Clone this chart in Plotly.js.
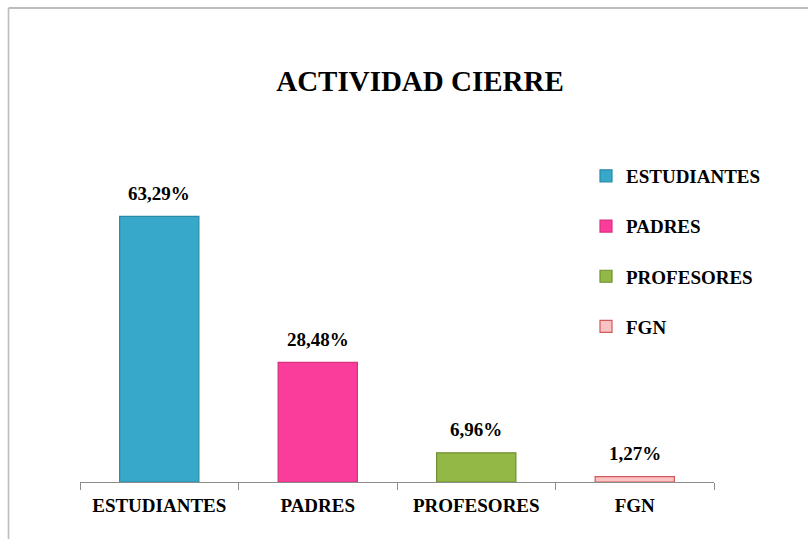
<!DOCTYPE html>
<html>
<head>
<meta charset="utf-8">
<script src="https://cdn.plot.ly/plotly-3.0.1.min.js"></script>
<style>
  html, body { margin: 0; padding: 0; background: #ffffff; }
  #chart { width: 808px; height: 539px; }
</style>
</head>
<body>
<div id="chart"></div>
<script>
// Data
const categories = ["ESTUDIANTES", "PADRES", "PROFESORES", "FGN"];
const values = [63.29, 28.48, 6.96, 1.27];
const valueLabels = ["63,29%", "28,48%", "6,96%", "1,27%"];
const chartTitle = "ACTIVIDAD CIERRE";

// Styling
const fillColors = ["#37A7CA", "#FA3C9B", "#93B845", "#F9C3C3"];
const lineColors = ["#2B8AA8", "#D8307F", "#6E8F30", "#D05A5A"];
const FONT = "Liberation Serif, Times New Roman, serif";

const W = 808, H = 539;
const M = { l: 80, r: 94, t: 130, b: 57, autoexpand: false };
const plotW = W - M.l - M.r, plotH = H - M.t - M.b;
const yMax = 83.85;

const traces = categories.map((c, i) => ({
  type: "bar",
  name: c,
  x: [c],
  y: [values[i]],
  legendgroup: "g" + i,
  marker: { color: fillColors[i], line: { color: lineColors[i], width: 1.2 } },
  hoverinfo: "skip"
}));

const annotations = categories.map((c, i) => ({
  x: c, y: values[i], xref: "x", yref: "y",
  text: "<b>" + valueLabels[i] + "</b>",
  showarrow: false,
  yanchor: "middle",
  yshift: 23,
  font: { family: FONT, size: 19, color: "#000000" }
}));

// Frame lines (top and left edges of the outer chart border)
const px = v => (v - M.l) / plotW;
const py = v => (H - M.b - v) / plotH;
const shapes = [
  { type: "line", xref: "paper", yref: "paper", x0: px(8.5), x1: px(810), y0: py(8), y1: py(8),
    line: { color: "#A6A6A6", width: 1.6 } },
  { type: "line", xref: "paper", yref: "paper", x0: px(8.5), x1: px(8.5), y0: py(8), y1: py(545),
    line: { color: "#BDBDBD", width: 1.6 } }
];

const layout = {
  width: W, height: H,
  margin: M,
  paper_bgcolor: "#ffffff",
  plot_bgcolor: "#ffffff",
  barmode: "relative",
  bargap: 0.5,
  showlegend: true,
  title: {
    text: "<b>" + chartTitle + "</b>",
    font: { family: FONT, size: 29, color: "#000000" },
    xref: "container", yref: "container",
    x: 420 / W, xanchor: "center",
    y: 1 - 81 / H, yanchor: "middle"
  },
  xaxis: {
    type: "category",
    categoryorder: "array",
    categoryarray: categories,
    showline: true, linecolor: "#8C8C8C", linewidth: 1,
    ticks: "outside", tickson: "boundaries", ticklen: 7, tickcolor: "#8C8C8C", tickwidth: 1,
    ticklabelstandoff: 6,
    tickangle: 0,
    automargin: false,
    tickfont: { family: FONT, size: 19, color: "#000000", weight: "bold" },
    showgrid: false, zeroline: false,
    fixedrange: true
  },
  yaxis: {
    range: [0, yMax],
    visible: false,
    showgrid: false, zeroline: false,
    fixedrange: true
  },
  legend: {
    xref: "container", yref: "container",
    x: 586 / W, xanchor: "left",
    y: 1 - 157 / H, yanchor: "top",
    orientation: "v",
    tracegroupgap: 22.5,
    font: { family: FONT, size: 19, color: "#000000", weight: "bold" },
    bgcolor: "rgba(0,0,0,0)",
    itemclick: false, itemdoubleclick: false
  },
  annotations: annotations,
  shapes: shapes
};

Plotly.newPlot("chart", traces, layout, { displayModeBar: false, staticPlot: true });
</script>
</body>
</html>
